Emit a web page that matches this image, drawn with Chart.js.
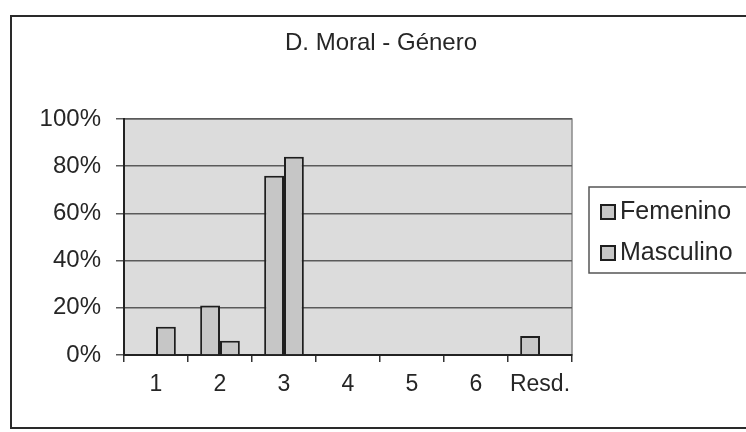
<!DOCTYPE html>
<html lang="es">
<head>
<meta charset="UTF-8">
<title>D. Moral - Género</title>
<script src="https://cdn.jsdelivr.net/npm/chart.js"></script>
<style>
    html, body {
        margin: 0;
        padding: 0;
        background: #FFFFFF;
    }
    .holder {
        width: 746px;
        height: 432px;
    }
</style>
</head>
<body>
<div class="holder">
    <canvas id="moralChart" width="746" height="432"></canvas>
</div>
<script>
    const chartTitle = 'D. Moral - Género';
    const categories = ['1', '2', '3', '4', '5', '6', 'Resd.'];
    const seriesNames = ['Femenino', 'Masculino'];
    const femenino = [0, 21, 76, 0, 0, 0, 8];
    const masculino = [12, 6, 84, 0, 0, 0, 0];
    const yTicks = [0, 20, 40, 60, 80, 100];

    const FONT = "'Liberation Sans', Arial, sans-serif";
    const barFill = '#c6c6c6';
    const barEdge = '#1e1e1e';

    // frame, plot background, title and legend
    const decor = {
        id: 'decor',
        beforeDraw(chart) {
            const c = chart.ctx;
            const a = chart.chartArea;
            c.save();
            c.fillStyle = '#FFFFFF';
            c.fillRect(0, 0, chart.width, chart.height);
            c.fillStyle = '#dcdcdc';
            c.fillRect(a.left, a.top, a.right - a.left, a.bottom - a.top);
            c.strokeStyle = '#8a8a8a';
            c.lineWidth = 1.5;
            c.strokeRect(a.left, a.top, a.right - a.left, a.bottom - a.top);
            c.restore();
        },
        afterDraw(chart) {
            const c = chart.ctx;
            c.save();
            // outer chart border
            c.strokeStyle = '#2a2a2a';
            c.lineWidth = 2;
            c.strokeRect(11, 16, 760, 412);

            c.fillStyle = '#262626';
            c.font = '24px ' + FONT;
            c.textAlign = 'center';
            c.textBaseline = 'middle';
            c.fillText(chartTitle, 381, 43);

            // legend
            c.strokeStyle = '#555555';
            c.lineWidth = 1.5;
            c.strokeRect(589, 187, 170, 86);
            c.textAlign = 'left';
            chart.data.datasets.forEach((ds, i) => {
                const y = 212 + i * 41;
                c.fillStyle = ds.backgroundColor;
                c.fillRect(601, y - 7, 14, 14);
                c.strokeStyle = ds.borderColor;
                c.lineWidth = 2;
                c.strokeRect(601, y - 7, 14, 14);
                c.fillStyle = '#262626';
                c.font = '25px ' + FONT;
                c.fillText(ds.label, 620, y);
            });
            c.restore();
        }
    };

    const barStyle = {
        backgroundColor: barFill,
        borderColor: barEdge,
        borderWidth: c => (c.raw ? 2 : 0),
        borderSkipped: 'bottom',
        categoryPercentage: 0.62,
        barPercentage: 1.0
    };

    const ctx = document.getElementById('moralChart');
    new Chart(ctx, {
        type: 'bar',
        data: {
            labels: categories,
            datasets: [
                Object.assign({ label: seriesNames[0], data: femenino }, barStyle),
                Object.assign({ label: seriesNames[1], data: masculino }, barStyle)
            ]
        },
        options: {
            responsive: false,
            animation: false,
            layout: { padding: { left: 0, top: 119, right: 174, bottom: 0 } },
            plugins: {
                colors: { enabled: false },
                legend: { display: false },
                title: { display: false },
                tooltip: { enabled: false }
            },
            scales: {
                x: {
                    afterFit: s => { s.height = 77; },
                    grid: {
                        offset: true,
                        drawOnChartArea: false,
                        color: '#333333',
                        lineWidth: 1.5,
                        tickLength: 7
                    },
                    border: { color: '#222222', width: 2 },
                    ticks: {
                        color: '#262626',
                        padding: 9,
                        maxRotation: 0,
                        minRotation: 0,
                        autoSkip: false,
                        font: { family: FONT, size: 23 }
                    }
                },
                y: {
                    min: 0,
                    max: 100,
                    afterFit: s => { s.width = 124; },
                    afterBuildTicks: s => { s.ticks = yTicks.map(v => ({ value: v })); },
                    grid: {
                        color: '#5a5a5a',
                        lineWidth: 1.5,
                        tickLength: 8
                    },
                    border: { color: '#222222', width: 2 },
                    ticks: {
                        color: '#262626',
                        padding: 15,
                        font: { family: FONT, size: 24 },
                        callback: v => v + '%'
                    }
                }
            }
        },
        plugins: [decor]
    });
</script>
</body>
</html>
